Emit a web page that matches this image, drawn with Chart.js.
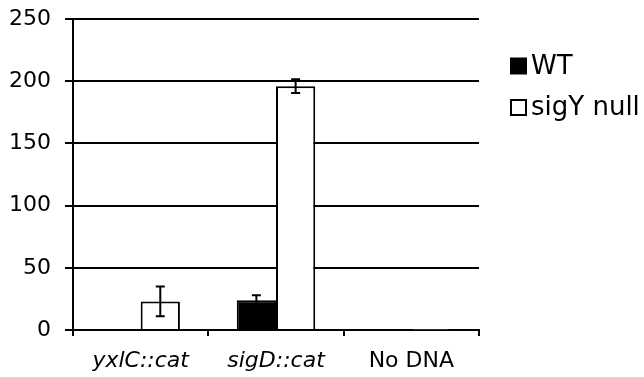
<!DOCTYPE html>
<html><head><meta charset="utf-8">
<script src="https://cdn.jsdelivr.net/npm/chart.js@4/dist/chart.umd.min.js"></script>
<style>html,body{margin:0;padding:0;background:#fff}#wrap{width:644px;height:377px;position:relative}</style>
</head><body><div id="wrap"><canvas id="c" width="644" height="377"></canvas></div>
<script>
const categories = ["yxlC::cat", "sigD::cat", "No DNA"];
const seriesNames = ["WT", "sigY null"];
const wtValues = [0.5, 24, 0.3];
const wtErrors = [0, 4, 0];
const nullValues = [23, 196, 0.3];
const nullErrors = [12, 5.5, 0];
const yTicks = [0, 50, 100, 150, 200, 250];

const errorBars = {
  id: 'errorBars',
  afterDatasetsDraw(chart) {
    const ctx = chart.ctx, y = chart.scales.y;
    const errs = [wtErrors, nullErrors];
    chart.data.datasets.forEach((ds, di) => {
      const meta = chart.getDatasetMeta(di);
      meta.data.forEach((bar, i) => {
        const e = errs[di][i];
        if (!e) return;
        const v = ds.data[i];
        const yt = y.getPixelForValue(v + e), yb = y.getPixelForValue(v - e);
        ctx.save();
        ctx.strokeStyle = '#000';
        ctx.lineWidth = 2;
        ctx.beginPath();
        ctx.moveTo(bar.x, yt); ctx.lineTo(bar.x, yb);
        ctx.moveTo(bar.x - 4.5, yt); ctx.lineTo(bar.x + 4.5, yt);
        ctx.moveTo(bar.x - 4.5, yb); ctx.lineTo(bar.x + 4.5, yb);
        ctx.stroke();
        ctx.restore();
      });
    });
  }
};

const sideLegend = {
  id: 'sideLegend',
  afterDraw(chart) {
    const ctx = chart.ctx;
    const x0 = chart.chartArea.right + 32;
    const centers = [66, 107.5];
    ctx.save();
    ctx.font = '26px "DejaVu Sans"';
    ctx.textBaseline = 'middle';
    ctx.textAlign = 'left';
    chart.data.datasets.forEach((ds, i) => {
      const cy = centers[i];
      ctx.fillStyle = ds.backgroundColor;
      ctx.fillRect(x0, cy - 7.5, 15, 15);
      ctx.strokeStyle = '#000';
      ctx.lineWidth = 2;
      ctx.strokeRect(x0, cy - 7.5, 15, 15);
      ctx.fillStyle = '#000';
      ctx.fillText(ds.label, x0 + 20, cy + 1);
    });
    ctx.restore();
  }
};

new Chart(document.getElementById('c'), {
  type: 'bar',
  data: {
    labels: categories,
    datasets: [
      { label: seriesNames[0], data: wtValues, backgroundColor: '#000', borderColor: '#000', borderWidth: 2 },
      { label: seriesNames[1], data: nullValues, backgroundColor: '#fff', borderColor: '#000', borderWidth: 2 }
    ]
  },
  options: {
    responsive: false,
    animation: false,
    layout: { padding: { left: 10, top: 19, right: 165, bottom: 4 } },
    datasets: { bar: { categoryPercentage: 0.58, barPercentage: 1.0 } },
    plugins: {
      tooltip: { enabled: false },
      title: { display: false },
      legend: { display: false }
    },
    scales: {
      x: {
        grid: { display: true, drawOnChartArea: false, offset: true, color: '#000', lineWidth: 2, tickLength: 6 },
        border: { display: true, color: '#000', width: 2 },
        ticks: {
          color: '#000', padding: 12,
          font: (c) => ({ family: 'DejaVu Sans', size: 22, style: c.index < 2 ? 'italic' : 'normal' })
        },
        afterFit(axis) { axis.height = 43; axis.paddingLeft = 0; axis.paddingRight = 0; axis.paddingTop = 0; axis.paddingBottom = 0; }
      },
      y: {
        min: 0, max: 250,
        afterBuildTicks(axis) { axis.ticks = yTicks.map(v => ({ value: v })); },
        grid: { color: '#000', lineWidth: 2, tickLength: 8 },
        border: { display: true, color: '#000', width: 2 },
        ticks: { color: '#000', padding: 14, font: { family: 'DejaVu Sans', size: 22 } },
        afterFit(axis) { axis.width = 63; axis.paddingTop = 0; axis.paddingBottom = 0; }
      }
    }
  },
  plugins: [errorBars, sideLegend]
});
</script></body></html>
